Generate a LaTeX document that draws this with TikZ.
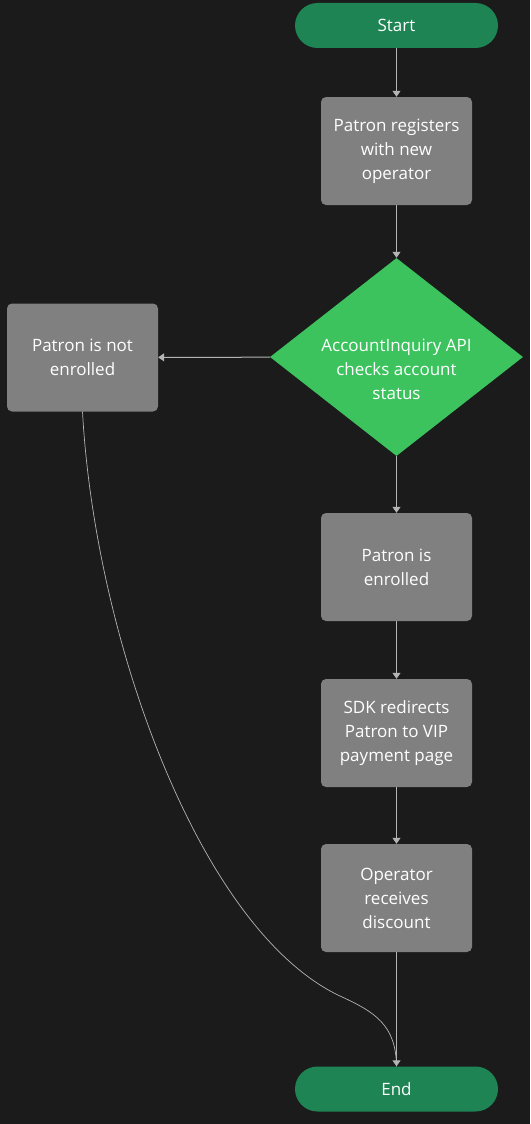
\documentclass[tikz,border=0pt]{standalone}
\usepackage{fontspec}
\setmainfont{Open Sans}
\usetikzlibrary{shapes.geometric,arrows.meta}
\definecolor{bg}{HTML}{1B1B1B}
\definecolor{boxgray}{HTML}{808080}
\definecolor{dgreen}{HTML}{1E8454}
\definecolor{lgreen}{HTML}{3CC35E}
\definecolor{linec}{HTML}{B4B4B4}
\begin{document}
\begin{tikzpicture}[x=1pt,y=-1pt,
  every node/.style={font=\fontsize{17}{24}\selectfont, text=white, align=center, inner sep=0pt},
  terminal/.style={fill=dgreen, rounded corners=22.5pt, minimum width=203pt, minimum height=45pt},
  procbox/.style={fill=boxgray, rounded corners=5pt, minimum width=151pt, minimum height=108pt},
  decision/.style={diamond, fill=lgreen, minimum width=253pt, minimum height=198pt},
  conn/.style={draw=linec, line width=1pt, -{Triangle[width=8pt,length=6pt]}},
  curveconn/.style={draw=linec, line width=0.7pt}
]
\useasboundingbox[fill=bg] (0,0) rectangle (530,1124);
\node[terminal] (start) at (396.5,25.5) {Start};
\node[procbox] (reg) at (396.5,151) {Patron registers\\with new\\operator};
\node[decision] (chk) at (396.5,357) {};
\node (chktext) at (396.5,369) {AccountInquiry API\\checks account\\status};
\node[procbox] (not) at (82.5,357.5) {Patron is not\\enrolled};
\node[procbox] (enr) at (396.5,567) {Patron is\\enrolled};
\node[procbox] (sdk) at (396.5,733) {SDK redirects\\Patron to VIP\\payment page};
\node[procbox] (op) at (396.5,898) {Operator\\receives\\discount};
\node[terminal] (end) at (396.5,1089) {End};
\draw[conn] (start) -- (reg);
\draw[conn] (reg) -- (chk);
\draw[conn] (chk) -- (not);
\draw[conn] (chk) -- (enr);
\draw[conn] (enr) -- (sdk);
\draw[conn] (sdk) -- (op);
\draw[conn] (op) -- (end);
\coordinate (mid) at (340,996);
\draw[curveconn] (not.south) .. controls (95,640) and (200,930) .. (mid) .. controls (375,1012) and (396,1025) .. (end.north);
\end{tikzpicture}
\end{document}
